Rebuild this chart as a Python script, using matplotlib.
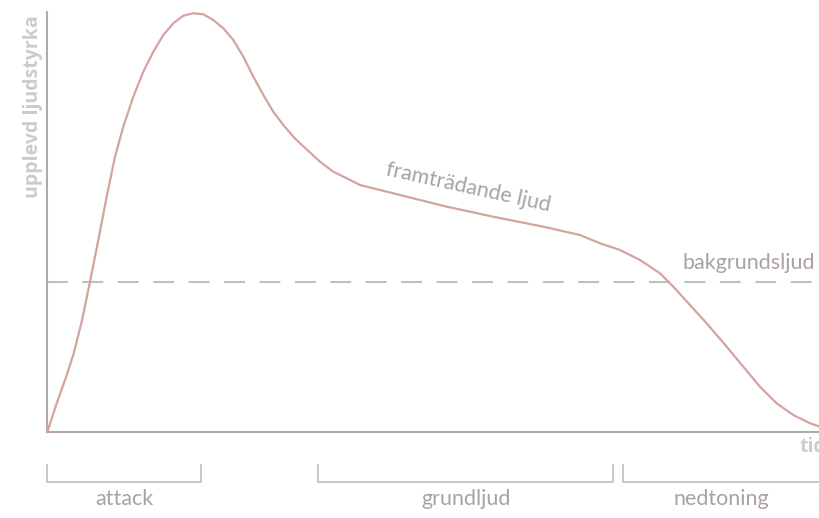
import matplotlib
matplotlib.use('Agg')
import matplotlib.pyplot as plt

# Perceived loudness of a sound over time
tid = [0, 1.19, 2.27, 3.34, 4.43, 5.50, 6.58, 7.66, 8.74, 9.81, 11.11,
       12.40, 13.70, 14.99, 16.28, 17.58, 18.87, 20.17, 21.46, 22.76, 24.05,
       25.35, 26.64, 27.94, 29.23, 30.52, 31.82, 32.69, 35.28, 37.00, 38.73,
       40.45, 44.76, 51.68, 57.71, 64.18, 68.93, 71.52, 74.11, 76.70, 79.29,
       81.01, 83.17, 85.33, 87.92, 90.07, 92.23, 94.39, 96.54, 98.71, 100]
ljudstyrka = [0, 6.73, 12.29, 18.26, 26.21, 35.75, 45.70, 56.04, 65.58, 72.74,
              79.90, 85.87, 90.64, 94.63, 97.42, 99.24, 99.81, 99.57, 98.21,
              96.23, 93.44, 89.45, 84.68, 80.31, 76.32, 73.15, 70.36, 68.78,
              64.39, 62.00, 60.43, 58.83, 56.85, 53.65, 51.26, 48.88, 46.90,
              44.92, 43.32, 40.93, 37.76, 34.56, 30.19, 25.82, 20.24, 15.47,
              10.69, 6.73, 3.94, 1.96, 1.15]
bakgrund = 35.6

faser = ['attack', 'grundljud', 'nedtoning']
fas_start = [0, 35.06, 74.46]
fas_slut = [19.83, 73.24, 100]

CURVE = '#d5a3a0'
AXIS = '#b7a8a8'
DASH = '#b6c6b3'
TEXT = '#aaa1a1'
LABEL = '#cccccc'

fig = plt.figure(figsize=(8.2, 5.18), dpi=100)
ax = fig.add_axes([47.5 / 820, 86.5 / 518, 772.5 / 820, 419 / 518])
ax.set_xlim(0, 100)
ax.set_ylim(0, 100)

ax.plot(tid, ljudstyrka, color=CURVE, lw=1.6, clip_on=False, zorder=3,
        solid_joinstyle='round')
ax.axhline(bakgrund, color=DASH, lw=1.5, dashes=(10, 7), zorder=2)

for s in ['top', 'right']:
    ax.spines[s].set_visible(False)
for s in ['left', 'bottom']:
    ax.spines[s].set_color(AXIS)
    ax.spines[s].set_linewidth(1.5)
ax.set_xticks([])
ax.set_yticks([])

thin = dict(family=['Lato', 'DejaVu Sans'], weight='normal', color=TEXT)

# phase brackets below the time axis
for name, a, b in zip(faser, fas_start, fas_slut):
    ax.plot([a, a, b, b], [-8.0, -12.05, -12.05, -8.0], color='#c2b4b4',
            lw=1.1, clip_on=False)
    ax.text((a + b) / 2, -16.2, name, ha='center', va='center',
            fontsize=15.5, clip_on=False, **thin)

ax.text(54.4, 58.3, 'framträdande ljud', rotation=-12.5, ha='center',
        va='center', fontsize=15.5, rotation_mode='anchor', **thin)
ax.text(99.3, bakgrund + 4.6, 'bakgrundsljud', ha='right', va='center',
        fontsize=15.5, **thin)

ax.text(-0.0188, 0.994, 'upplevd ljudstyrka', transform=ax.transAxes,
        rotation=90, ha='center', va='top', fontsize=14, fontweight='bold',
        family=['Open Sans', 'DejaVu Sans'], color=LABEL)
ax.text(97.4, -3.7, 'tid', ha='left', va='center', fontsize=14,
        fontweight='bold', family=['Open Sans', 'DejaVu Sans'], color=LABEL,
        clip_on=False)

plt.savefig('out.png', dpi=100)
plt.close()
